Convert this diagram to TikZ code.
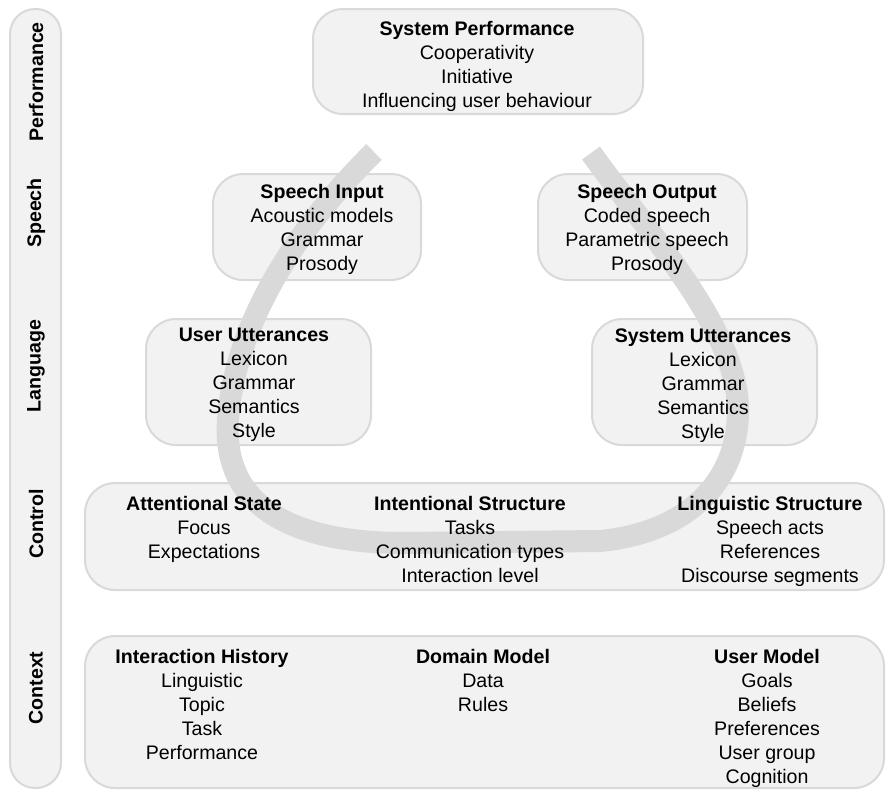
\documentclass[tikz,border=0pt]{standalone}
\usepackage{fontspec}
\setmainfont{Liberation Sans}
\usetikzlibrary{positioning,fit}
\definecolor{boxfill}{RGB}{242,242,242}
\definecolor{boxline}{RGB}{217,217,217}
\definecolor{loopgray}{RGB}{217,217,217}
\tikzstyle{layerbox} = [rectangle, rounded corners=15pt, draw=boxline, line width=1pt, fill=boxfill, inner sep=0pt]
\tikzstyle{sidebar} = [rectangle, rounded corners=12.5pt, draw=boxline, line width=1pt, fill=boxfill, inner sep=0pt]
\tikzstyle{txt} = [align=center, anchor=north, inner sep=0pt, font=\fontsize{9.8}{12}\selectfont]
\tikzstyle{lbl} = [rotate=90, inner sep=0pt, font=\fontsize{9.8}{12}\selectfont\bfseries]
\tikzstyle{loop} = [line width=11pt, draw=loopgray]

\begin{document}
\begin{tikzpicture}[x=0.5pt, y=-0.5pt]
\useasboundingbox (0,0) rectangle (886,789);

% side bar with the levels
\node (bar) [sidebar, fit={(10,9) (61,788)}] {};
\node (lperf) [lbl] at (36,82) {Performance};
\node (lspeech) [lbl] at (36,213) {Speech};
\node (llang) [lbl] at (36,366) {Language};
\node (lctrl) [lbl] at (36,524) {Control};
\node (lctx) [lbl] at (36,688) {Context};

% boxes
\node (perf) [layerbox, fit={(313,9) (643,114)}] {};
\node (spin) [layerbox, fit={(213,174) (421,280)}] {};
\node (spout) [layerbox, fit={(538,174) (747,280)}] {};
\node (uutt) [layerbox, fit={(146,319) (371,445)}] {};
\node (sutt) [layerbox, fit={(592,319) (817,445)}] {};
\node (ctrl) [layerbox, fit={(85,483) (884,590)}] {};
\node (ctx) [layerbox, fit={(85,636) (884,788)}] {};

% the loop, over the boxes and under the texts
\coordinate (loopin) at (374,152);
\coordinate (loopout) at (591,153);
\draw [loop] (loopin) .. controls (300,225) and (235,320) .. (228,420)
  .. controls (222,505) and (290,542) .. (400,543) -- (600,541)
  .. controls (690,532) and (738,480) .. (738,410)
  .. controls (738,330) and (650,235) .. (loopout);

% texts
\node (perftxt) [txt] at (477,21) {\textbf{System Performance}\\Cooperativity\\Initiative\\Influencing user behaviour};
\node (spintxt) [txt] at (322,184) {\textbf{Speech Input}\\Acoustic models\\Grammar\\Prosody};
\node (spouttxt) [txt] at (647,184) {\textbf{Speech Output}\\Coded speech\\Parametric speech\\Prosody};
\node (uutttxt) [txt] at (254,328) {\textbf{User Utterances}\\Lexicon\\Grammar\\Semantics\\Style};
\node (sutttxt) [txt] at (703,328) {\textbf{System Utterances}\\Lexicon\\Grammar\\Semantics\\Style};

\node (atttxt) [txt] at (204,496) {\textbf{Attentional State}\\Focus\\Expectations};
\node (inttxt) [txt] at (470,496) {\textbf{Intentional Structure}\\Tasks\\Communication types\\Interaction level};
\node (lingtxt) [txt] at (770,496) {\textbf{Linguistic Structure}\\Speech acts\\References\\Discourse segments};

\node (histtxt) [txt] at (202,649) {\textbf{Interaction History}\\Linguistic\\Topic\\Task\\Performance};
\node (domtxt) [txt] at (483,649) {\textbf{Domain Model}\\Data\\Rules};
\node (usertxt) [txt] at (767,649) {\textbf{User Model}\\Goals\\Beliefs\\Preferences\\User group\\Cognition};
\end{tikzpicture}
\end{document}
